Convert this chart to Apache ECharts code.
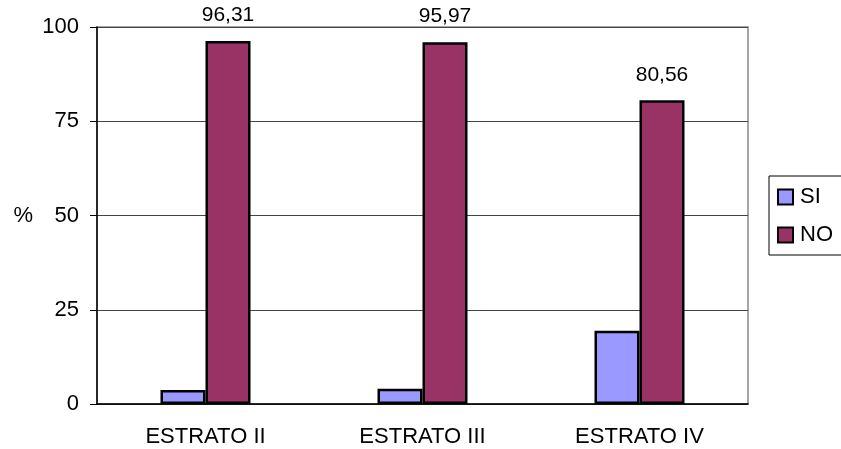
<!DOCTYPE html>
<html>
<head>
    <meta charset="utf-8">
    <title>Estratos SI / NO</title>
    <style>
        * { margin: 0; padding: 0; }
        body { background: #fff; }
        #main { width: 841px; height: 449px; }
    </style>
    <script src="https://cdn.jsdelivr.net/npm/echarts@6/dist/echarts.min.js"></script>
</head>
<body>
    <div id="main"></div>
    <script type="text/javascript">
        // datos
        var categorias = ['ESTRATO II', 'ESTRATO III', 'ESTRATO IV'];
        var valoresSI = [3.69, 4.03, 19.44];
        var valoresNO = [96.31, 95.97, 80.56];
        var ticksY = [0, 25, 50, 75, 100];

        var fuente = '"Liberation Sans", Arial, sans-serif';
        var chart = echarts.init(document.getElementById('main'));

        var option = {
            animation: false,
            backgroundColor: '#fff',
            textStyle: { fontFamily: fuente, color: '#000' },
            grid: {
                left: 97, right: 93, top: 27, bottom: 45,
                show: true, borderColor: '#888', borderWidth: 1.5,
                containLabel: false
            },
            legend: {
                orient: 'vertical',
                left: 769, top: 176,
                padding: [10, 20, 9, 8],
                itemWidth: 15, itemHeight: 15, itemGap: 16,
                borderColor: '#000', borderWidth: 1,
                icon: 'rect',
                itemStyle: { borderColor: '#000', borderWidth: 2 },
                textStyle: { fontSize: 22, fontFamily: fuente, color: '#000', padding: [0, 0, 0, 2] },
                data: ['SI', 'NO']
            },
            xAxis: {
                type: 'category',
                data: categorias,
                axisLine: { lineStyle: { color: '#000', width: 1.5 } },
                axisTick: { length: 6, lineStyle: { color: '#000' } },
                axisLabel: { fontSize: 22, color: '#000', margin: 22, fontFamily: fuente }
            },
            yAxis: {
                type: 'value',
                min: ticksY[0], max: ticksY[ticksY.length - 1], interval: 25,
                name: '%',
                nameLocation: 'middle',
                nameRotate: 0,
                nameGap: 64,
                nameTextStyle: { fontSize: 22, color: '#000', fontFamily: fuente },
                axisLine: { show: true, lineStyle: { color: '#000', width: 1.5 } },
                axisTick: { show: true, length: 7, lineStyle: { color: '#000' } },
                axisLabel: { fontSize: 22, color: '#000', margin: 18, fontFamily: fuente },
                splitLine: { lineStyle: { color: '#444', width: 1 } }
            },
            series: [{
                name: 'SI',
                type: 'bar',
                data: valoresSI,
                barWidth: 45,
                barGap: '0%',
                itemStyle: { color: '#9999FF', borderColor: '#000', borderWidth: 2.5 }
            }, {
                name: 'NO',
                type: 'bar',
                data: valoresNO,
                barWidth: 45,
                itemStyle: { color: '#993366', borderColor: '#000', borderWidth: 2.5 },
                label: {
                    show: true,
                    position: 'top',
                    distance: 15,
                    fontSize: 21,
                    color: '#000',
                    fontFamily: fuente,
                    formatter: function (p) { return p.value.toFixed(2).replace('.', ','); }
                }
            }]
        };
        chart.setOption(option);
    </script>
</body>
</html>
